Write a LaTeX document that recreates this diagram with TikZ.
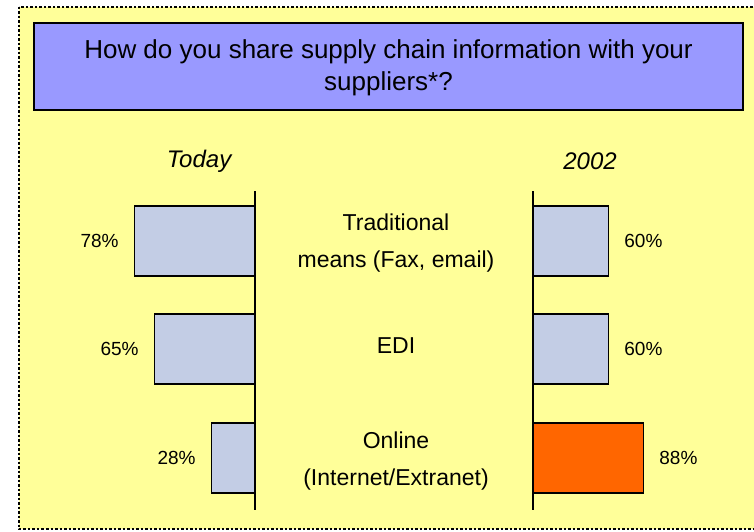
\documentclass[tikz,border=0pt]{standalone}
\usepackage{xcolor}
\usepackage{fontspec}
\setmainfont{Liberation Sans}
\usepackage{tikz}
\usetikzlibrary{positioning}
\definecolor{panel}{HTML}{FFFF99}
\definecolor{titlebg}{HTML}{9999FF}
\definecolor{barblue}{HTML}{C3CDE5}
\definecolor{barorange}{HTML}{FF6600}
\tikzstyle{bar} = [draw,line width=1.2pt,fill=barblue,minimum height=70pt,inner sep=0pt]
\tikzstyle{axis} = [line width=2pt]
\tikzstyle{pct} = [font=\fontsize{19}{22}\selectfont,inner sep=0pt]
\tikzstyle{lbl} = [font=\fontsize{23}{37}\selectfont,align=center,inner sep=0pt]
\tikzstyle{yr} = [font=\fontsize{24}{28}\selectfont\itshape,inner sep=0pt]
\newcommand{\pctL}[2]{\node[pct, left=15pt of #1] {#2\%};}
\newcommand{\pctR}[2]{\node[pct, right=15pt of #1] {#2\%};}

\begin{document}
\begin{tikzpicture}[x=1pt,y=-1pt]
            \useasboundingbox (0,0) rectangle (754,532);
            \draw [dash pattern=on 2.5pt off 2pt,line width=2.6pt,fill=panel] (19,7) rectangle (757,529);
            \draw [line width=1.5pt,fill=titlebg] (34,23) rectangle (743,110);
            \node [font=\fontsize{26}{32}\selectfont,align=center] (title) at (388.5,68)
                {How do you share supply chain information with your\\suppliers*?};
 %                   column heads
            \node [yr] (today) at (199,161) {Today};
            \node [yr] (future) at (590,161) {2002};
            \coordinate (lt) at (255,191);
            \coordinate (lb) at (255,510);
            \coordinate (rt) at (533,191);
            \coordinate (rb) at (533,510);
 %                   today
            \node [bar, minimum width=120pt, anchor=east] (tradL) at (255,241) {};
            \node [bar, minimum width=100pt, anchor=east] (ediL) at (255,349) {};
            \node [bar, minimum width=43pt, anchor=east] (onlL) at (255,458) {};
            \pctL{tradL}{78}
            \pctL{ediL}{65}
            \pctL{onlL}{28}
 %                   2002
            \node [bar, minimum width=75pt, anchor=west] (tradR) at (533,241) {};
            \node [bar, minimum width=75pt, anchor=west] (ediR) at (533,349) {};
            \node [bar, minimum width=110pt, anchor=west, fill=barorange] (onlR) at (533,458) {};
            \pctR{tradR}{60}
            \pctR{ediR}{60}
            \pctR{onlR}{88}
            \draw [axis] (lt) -- (lb);
            \draw [axis] (rt) -- (rb);
 %                   categories
            \node [lbl] (trad) at (396,243) {Traditional\\means (Fax, email)};
            \node [lbl] (edi) at (396,346) {EDI};
            \node [lbl] (onl) at (396,461) {Online\\(Internet/Extranet)};
        \end{tikzpicture}
\end{document}
